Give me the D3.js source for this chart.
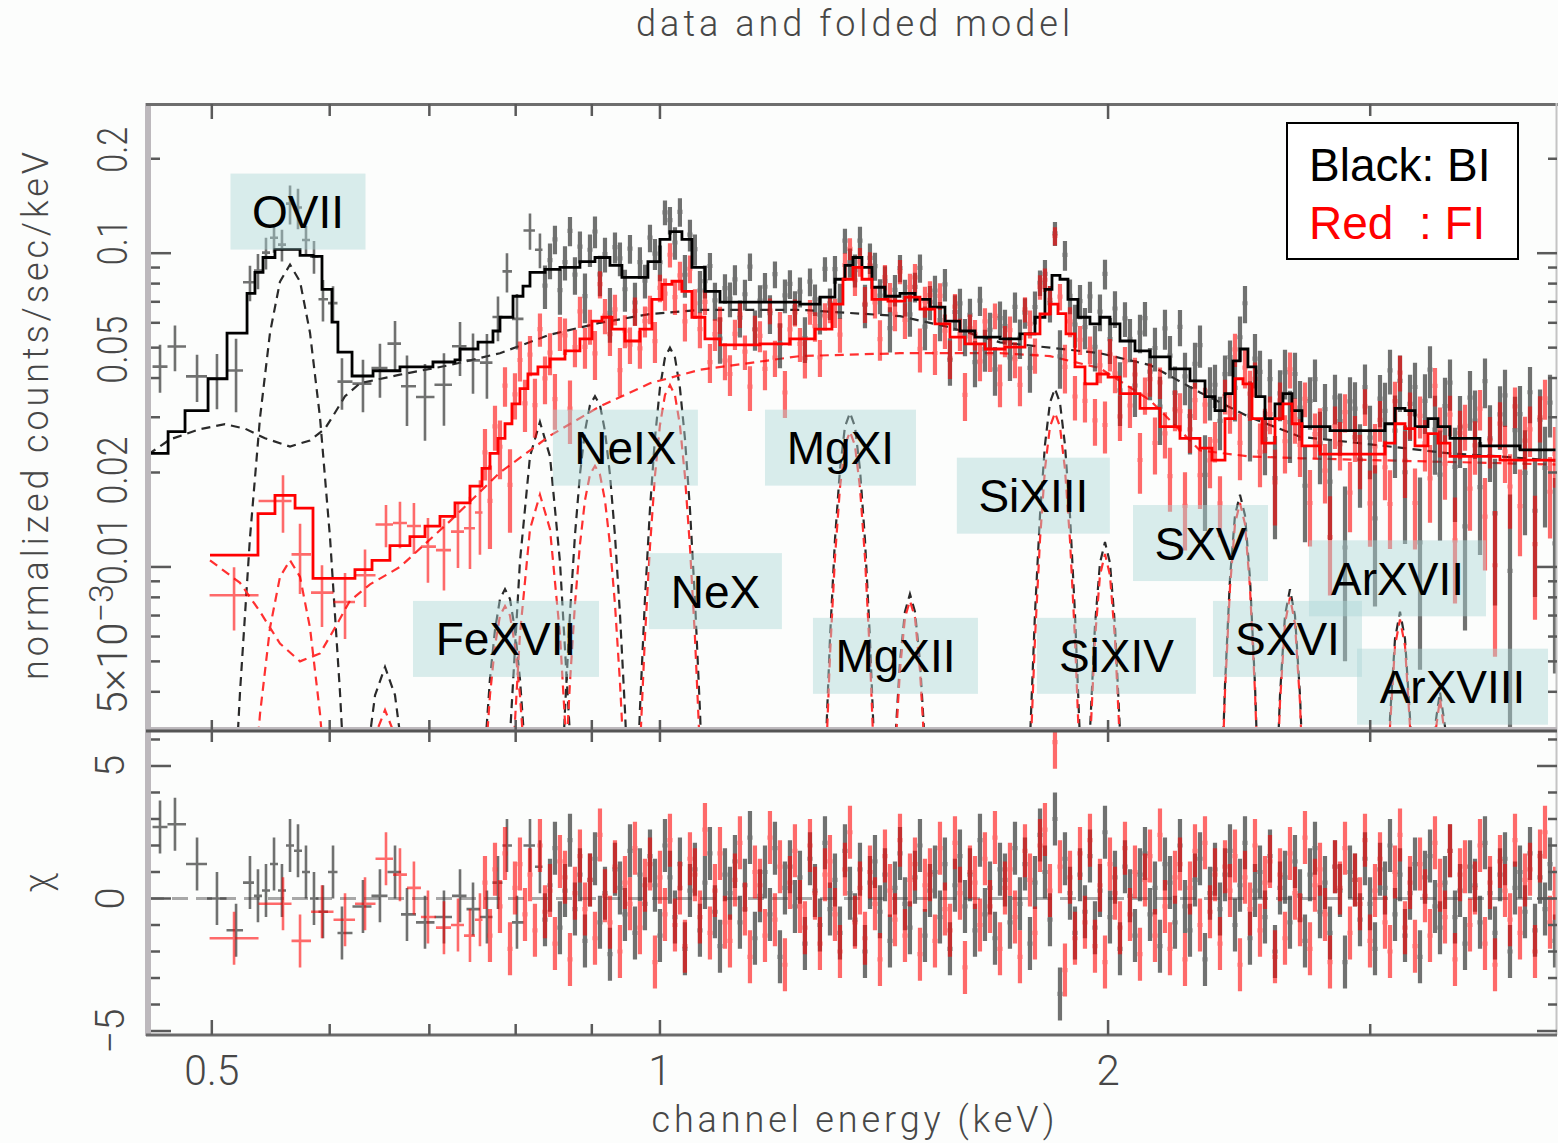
<!DOCTYPE html>
<html><head><meta charset="utf-8">
<script src="https://cdn.jsdelivr.net/npm/d3@7"></script>
<style>
html,body{margin:0;padding:0;background:#fcfdfc;}
svg{display:block;}
</style></head><body>
<svg id="chart" width="1558" height="1143"></svg>
<script>
// ---------------- axis ticks ----------------
const xTickMajor = [0.5, 1, 2];
const xTickMinor = [0.6, 0.7, 0.8, 0.9, 3, 4];
const xTickLabels = ["0.5", "1", "2"];
const yTickMajor = [0.1, 0.01];
const yTickMinor = [0.2, 0.09, 0.08, 0.07, 0.06, 0.05, 0.04, 0.03, 0.02, 0.009, 0.008, 0.007, 0.006, 0.005, 0.004];
const yTickLabelValues = [0.2, 0.1, 0.05, 0.02, 0.01, 0.005];
const chiTicks = [-5, -4, -3, -2, -1, 0, 1, 2, 3, 4, 5, 6];
const chiTickMajor = [-5, 0, 5];

// ---------------- folded model, BI (black): step left edges (keV) and counts/s/keV ----------------
const biModelE = [0.4530,0.4673,0.4797,0.4971,0.5119,0.5280,0.5345,0.5412,0.5513,0.5731,
0.5847,0.5929,0.6021,0.6077,0.6211,0.6416,0.6689,0.7039,0.7283,0.7340,
0.7547,0.7724,0.7808,0.7967,0.8091,0.8179,0.8371,0.8567,0.8836,0.9044,
0.9256,0.9429,0.9621,0.9816,1.0,1.0156,1.0346,1.0507,1.0721,1.0973,
1.2418,1.2808,1.3109,1.3313,1.3479,1.3668,1.3881,1.4163,1.4496,1.4836,
1.5184,1.5541,1.5905,1.6279,1.6921,1.7452,1.7862,1.8140,1.8338,1.8566,
1.8797,1.9090,1.9448,1.9751,2.0059,2.0372,2.0850,2.1340,2.2010,2.2702,
2.3235,2.3597,2.3965,2.4263,2.4527,2.4832,2.5142,2.5494,2.5892,2.6214,
2.6582,2.6996,2.8191,2.9990,3.0694,3.1173,3.1659,3.2152,3.2805,3.3316,
3.3941,3.5553,3.7822,4.005];
const biModelV = [0.0230,0.0270,0.0315,0.0398,0.0556,0.0745,0.0869,0.0969,0.1028,0.0984,
0.0977,0.0767,0.0603,0.0484,0.0406,0.0422,0.0434,0.0450,0.0457,0.0495,
0.0521,0.0565,0.0625,0.0729,0.0785,0.0869,0.0888,0.0901,0.0940,0.0969,
0.0915,0.0838,0.0838,0.0940,0.1106,0.1172,0.1106,0.0901,0.0756,0.0698,
0.0688,0.0724,0.0826,0.0915,0.0969,0.0901,0.0779,0.0729,0.0745,0.0713,
0.0673,0.0607,0.0565,0.0540,0.0533,0.0553,0.0625,0.0767,0.0850,0.0826,
0.0713,0.0625,0.0595,0.0625,0.0595,0.0525,0.0488,0.0467,0.0428,0.0392,
0.0349,0.0315,0.0357,0.0454,0.0495,0.0434,0.0349,0.0297,0.0331,0.0357,
0.0315,0.0280,0.0272,0.0272,0.0286,0.0320,0.0315,0.0280,0.0297,0.0280,
0.0257,0.0243,0.0236,0.0236];

// ---------------- folded model, FI (red) ----------------
const fiModelE = [0.4986,0.5370,0.5513,0.5687,0.5847,0.6239,0.6406,0.6586,0.6793,0.6953,
0.7116,0.7283,0.7454,0.7594,0.7688,0.7784,0.7869,0.7954,0.8053,0.8153,
0.8280,0.8436,0.8634,0.8836,0.9002,0.9142,0.9285,0.9473,0.9695,0.9877,
1.0031,1.0187,1.0346,1.0507,1.0721,1.0973,1.1673,1.2227,1.2710,1.3048,
1.3272,1.3479,1.3668,1.3881,1.4229,1.4608,1.4951,1.5302,1.5661,1.6028,
1.6533,1.7052,1.7588,1.8001,1.8281,1.8509,1.8740,1.9002,1.9298,1.9660,
2.0000,2.0372,2.1012,2.1672,2.2353,2.3056,2.3487,2.3965,2.4338,2.4641,
2.4987,2.5376,2.5892,2.6214,2.6582,2.6996,2.7758,3.0694,3.1173,3.1659,
3.2152,3.2805,3.3316,3.3941,3.6670,4.005];
const fiModelV = [0.0109,0.0148,0.0169,0.0154,0.0092,0.0098,0.0105,0.0117,0.0125,0.0135,
0.0145,0.0160,0.0181,0.0206,0.0230,0.0257,0.0286,0.0331,0.0370,0.0412,
0.0434,0.0460,0.0488,0.0533,0.0607,0.0625,0.0573,0.0525,0.0573,0.0713,
0.0796,0.0814,0.0756,0.0625,0.0533,0.0510,0.0514,0.0533,0.0573,0.0688,
0.0826,0.0901,0.0826,0.0713,0.0703,0.0724,0.0663,0.0595,0.0540,0.0514,
0.0495,0.0502,0.0553,0.0640,0.0688,0.0642,0.0553,0.0434,0.0383,0.0412,
0.0403,0.0357,0.0320,0.0280,0.0257,0.0239,0.0219,0.0297,0.0398,0.0383,
0.0297,0.0248,0.0297,0.0331,0.0286,0.0243,0.0229,0.0248,0.0286,0.0276,
0.0243,0.0266,0.0248,0.0225,0.0219,0.0219];

// ---------------- continuum components (dashed) ----------------
const biContE = [0.4530,0.4687,0.4910,0.5103,0.5263,0.5429,0.5643,0.5820,0.5957,0.6049,0.6144,0.6288,0.6689,0.7227,0.7808,0.8436,0.9114,0.9847,1.0638,1.2418,1.4496,1.5661,1.6921,1.8281,1.9751,2.1340,2.3056,2.4909,2.6913,2.9077,3.1415,3.3941,3.6670,4.005];
const biContV = [0.0228,0.0255,0.0275,0.0285,0.0276,0.0257,0.0242,0.0253,0.0276,0.0310,0.0350,0.0385,0.0410,0.0440,0.0480,0.0550,0.0600,0.0640,0.0660,0.0660,0.0630,0.0580,0.0520,0.0500,0.0480,0.0440,0.0360,0.0300,0.0260,0.0250,0.0240,0.0230,0.0225,0.0218];
const fiContE = [0.4986,0.5223,0.5387,0.5556,0.5731,0.5911,0.6049,0.6191,0.6386,0.6689,0.7227,0.7808,0.8436,0.9114,0.9847,1.0638,1.2418,1.4496,1.6921,1.8281,1.9751,2.1340,2.3056,2.4909,2.6913,3.1415,4.005];
const fiContV = [0.0105,0.0089,0.0072,0.0057,0.0050,0.0053,0.0064,0.0078,0.0088,0.0100,0.0140,0.0200,0.0262,0.0325,0.0385,0.0425,0.0470,0.0480,0.0480,0.0470,0.0430,0.0340,0.0235,0.0225,0.0222,0.0218,0.0212];

// ---------------- emission-line components (dashed): energies, BI and FI profiles ----------------
const lineNames = ["OVII","OVIII","FeXVIII","FeXVII","NeIX","NeX","MgXI","MgXII","SiXIII","SiXIV","SXV","SXVI","ArXVII","ArXVIII"];
const lineE = [
 [0.5143,0.5223,0.5304,0.5387,0.5471,0.5556,0.5643,0.5731,0.5820,0.5911,0.6003,0.6096,0.6191],
 [0.6239,0.6337,0.6436,0.6536,0.6638,0.6741,0.6846],
 [0.7512,0.7570,0.7629,0.7688,0.7748,0.7808,0.7869,0.7930,0.7991,0.8053,0.8116,0.8179,0.8242],
 [0.7808,0.7930,0.8053,0.8179,0.8306,0.8436,0.8567,0.8701,0.8836],
 [0.8501,0.8567,0.8634,0.8701,0.8768,0.8836,0.8905,0.8974,0.9044,0.9114,0.9185,0.9256,0.9328,0.9400,0.9473,0.9547,0.9621],
 [0.9621,0.9695,0.9771,0.9847,0.9923,1.0,1.0078,1.0156,1.0235,1.0314,1.0394,1.0475,1.0556,1.0638,1.0721],
 [1.2808,1.2908,1.3008,1.3109,1.3211,1.3313,1.3417,1.3521,1.3626,1.3732,1.3838,1.3946,1.4054],
 [1.4273,1.4384,1.4496,1.4608,1.4721,1.4836,1.4951,1.5067,1.5184],
 [1.7588,1.7724,1.7862,1.8001,1.8140,1.8281,1.8423,1.8566,1.8710,1.8856,1.9002,1.9150,1.9298],
 [1.9150,1.9298,1.9448,1.9599,1.9751,1.9905,2.0059,2.0215,2.0372,2.0530,2.0689],
 [2.3597,2.3780,2.3965,2.4151,2.4338,2.4527,2.4718,2.4909,2.5103,2.5298,2.5494],
 [2.5692,2.5892,2.6093,2.6295,2.6499,2.6705,2.6913,2.7121,2.7332],
 [3.0458,3.0694,3.0933,3.1173,3.1415,3.1659,3.1905,3.2152,3.2402],
 [3.2653,3.2907,3.3162,3.3420,3.3679,3.3941,3.4204]
];
const lineBI = [
 [0.0010,0.0040,0.0124,0.0299,0.0558,0.0812,0.092,0.0812,0.0558,0.0299,0.0124,0.0040,0.0010],
 [0.00083,0.0022,0.0039,0.0048,0.0039,0.0022,0.00083],
 [0.00059,0.0013,0.0026,0.0044,0.0063,0.0079,0.0085,0.0079,0.0063,0.0044,0.0026,0.0013,0.00059],
 [0.00049,0.0029,0.0104,0.0225,0.029,0.0225,0.0104,0.0029,0.00049],
 [0.00059,0.0015,0.0035,0.0071,0.0126,0.0197,0.0271,0.0328,0.035,0.0328,0.0271,0.0197,0.0126,0.0071,0.0035,0.0015,0.00059],
 [0.0013,0.0035,0.0079,0.0153,0.0257,0.0372,0.0465,0.050,0.0465,0.0372,0.0257,0.0153,0.0079,0.0035,0.0013],
 [0.00076,0.0023,0.0059,0.0122,0.0205,0.028,0.031,0.028,0.0205,0.0122,0.0059,0.0023,0.00076],
 [0.0011,0.0027,0.005,0.0072,0.0082,0.0072,0.005,0.0027,0.0011],
 [0.0009,0.0028,0.0071,0.0146,0.0245,0.0334,0.037,0.0334,0.0245,0.0146,0.0071,0.0028,0.0009],
 [0.00025,0.001,0.003,0.0065,0.0103,0.012,0.0103,0.0065,0.003,0.001,0.00025],
 [0.00036,0.0014,0.0042,0.0092,0.0146,0.017,0.0146,0.0092,0.0042,0.0014,0.00036],
 [0.00037,0.0015,0.0039,0.007,0.0085,0.007,0.0039,0.0015,0.00037],
 [0.00032,0.0012,0.0033,0.0059,0.0072,0.0059,0.0033,0.0012,0.00032],
 [0.0004,0.0014,0.0031,0.004,0.0031,0.0014,0.0004]
];
const lineFI = [
 [0.00012,0.00046,0.0014,0.0034,0.0064,0.0093,0.0105,0.0093,0.0064,0.0034,0.0014,0.00046,0.00012],
 [0.0006,0.0016,0.0029,0.0035,0.0029,0.0016,0.0006],
 [0.00052,0.0012,0.0023,0.0039,0.0056,0.0070,0.0075,0.0070,0.0056,0.0039,0.0023,0.0012,0.00052],
 [0.00029,0.0017,0.0061,0.0132,0.017,0.0132,0.0061,0.0017,0.00029],
 [0.00035,0.00092,0.0021,0.0043,0.0076,0.0118,0.0163,0.0197,0.021,0.0197,0.0163,0.0118,0.0076,0.0043,0.0021,0.00092,0.00035],
 [0.0010,0.0026,0.0060,0.0116,0.0195,0.0283,0.0353,0.038,0.0353,0.0283,0.0195,0.0116,0.0060,0.0026,0.0010],
 [0.00066,0.0020,0.0052,0.0107,0.0179,0.0244,0.027,0.0244,0.0179,0.0107,0.0052,0.0020,0.00066],
 [0.0011,0.0025,0.0047,0.0069,0.0078,0.0069,0.0047,0.0025,0.0011],
 [0.00076,0.0023,0.0059,0.0122,0.0205,0.028,0.031,0.028,0.0205,0.0122,0.0059,0.0023,0.00076],
 [0.00023,0.00093,0.0027,0.0059,0.0094,0.011,0.0094,0.0059,0.0027,0.00093,0.00023],
 [0.00034,0.0014,0.004,0.0086,0.0137,0.016,0.0137,0.0086,0.004,0.0014,0.00034],
 [0.00035,0.0014,0.0037,0.0066,0.008,0.0066,0.0037,0.0014,0.00035],
 [0.0003,0.0012,0.0031,0.0056,0.0068,0.0056,0.0031,0.0012,0.0003],
 [0.00038,0.0014,0.0029,0.0038,0.0029,0.0014,0.00038]
];

// ---------------- spectral bins ----------------
// low-energy BI bins (keV), their chi residuals and 1-sigma errors (% of model)
const biLowE = [0.4615,0.4723,0.4887,0.5040,0.5191,0.5304,0.5370,0.5437,0.5505,0.5573,0.5643,0.5713,0.5784,0.5856,0.5938,0.6031,0.6115,0.6317,0.6485,0.6638,0.6762,0.6953,0.7160,0.7340,0.7489,0.7652,0.7784,0.7893,0.8016,0.8179];
const biLowChi = [2.7,2.8,1.3,0.0,-1.2,0.6,0.1,0.3,1.3,0.3,2.0,1.8,1.0,0.0,-0.5,1.0,-1.3,-0.3,0.1,1.0,-0.6,-0.9,-0.7,0.1,-0.4,-0.7,0.6,2.0,-0.9,2.0];
const biLowErr = [33,31,22,20,20,14,13,12,12,12,20,20,12,12,14,15,15,18,20,22,22,22,22,20,20,20,18,20,17,18];
// low-energy FI bins
const fiLowE = [0.5175,0.5582,0.5731,0.5929,0.6144,0.6337,0.6546,0.6689,0.6835,0.6985,0.7160,0.7317,0.7454,
0.7570,0.7629,0.7688,0.7748,0.7808,0.7869,0.7930,0.7991,0.8053,0.8116,0.8179,0.8242];
const fiLowChi = [-1.5,-0.2,-1.6,-0.5,-0.8,-0.2,1.5,0.9,0.4,-0.7,-1.1,-1.0,-1.4];
const fiLowErr = [17,20,18,20,20,20,20,20,20,20,20,19,19];

// common fine channel grid above 0.83 keV
const gridE = [0.8306,0.8371,0.8436,0.8501,0.8567,0.8634,0.8701,0.8768,0.8836,0.8905,
0.8974,0.9044,0.9114,0.9185,0.9256,0.9328,0.9400,0.9473,0.9547,0.9621,
0.9695,0.9771,0.9847,0.9923,1.0000,1.0078,1.0156,1.0235,1.0314,1.0394,
1.0475,1.0556,1.0638,1.0721,1.0804,1.0888,1.0973,1.1058,1.1144,1.1230,
1.1317,1.1405,1.1494,1.1583,1.1673,1.1764,1.1855,1.1947,1.2040,1.2133,
1.2227,1.2322,1.2418,1.2514,1.2612,1.2710,1.2808,1.2908,1.3008,1.3109,
1.3211,1.3313,1.3417,1.3521,1.3626,1.3732,1.3838,1.3946,1.4054,1.4163,
1.4273,1.4384,1.4496,1.4608,1.4721,1.4836,1.4951,1.5067,1.5184,1.5302,
1.5421,1.5540,1.5661,1.5783,1.5905,1.6029,1.6153,1.6279,1.6405,1.6532,
1.6661,1.6790,1.6921,1.7052,1.7184,1.7318,1.7452,1.7588,1.7724,1.7862,
1.8001,1.8140,1.8281,1.8423,1.8566,1.8710,1.8856,1.9002,1.9150,1.9298,
1.9448,1.9599,1.9751,1.9905,2.0059,2.0215,2.0372,2.0530,2.0689,2.0850,
2.1012,2.1175,2.1340,2.1505,2.1672,2.1840,2.2010,2.2181,2.2353,2.2527,
2.2702,2.2878,2.3056,2.3235,2.3415,2.3597,2.3780,2.3965,2.4151,2.4338,
2.4527,2.4718,2.4909,2.5103,2.5298,2.5494,2.5692,2.5892,2.6093,2.6295,
2.6499,2.6705,2.6913,2.7121,2.7332,2.7544,2.7758,2.7974,2.8191,2.8410,
2.8630,2.8853,2.9077,2.9302,2.9530,2.9759,2.9990,3.0223,3.0458,3.0694,
3.0933,3.1173,3.1415,3.1659,3.1905,3.2152,3.2402,3.2653,3.2907,3.3162,
3.3420,3.3679,3.3941,3.4204,3.4470,3.4738,3.5007,3.5279,3.5553,3.5829,
3.6107,3.6388,3.6670,3.6955,3.7242,3.7531,3.7822,3.8116,3.8412,3.8710,
3.9011,3.9314,3.9619,3.9927];

const biGridChi = [1.2,-0.8,0.5,1.9,-1.1,0.3,2.2,-0.4,0.9,-1.6,
0.7,1.5,-0.9,0.2,-2.1,1.1,0.4,-0.6,1.8,-1.3,
0.9,-0.2,1.6,0.5,-1.4,2.0,0.8,-0.7,1.3,-1.9,
0.3,1.1,-1.2,0.6,1.7,-0.5,-1.8,0.9,0.2,1.4,
-0.9,0.5,2.3,-1.5,0.1,1.0,-0.6,1.9,-2.2,0.4,
1.2,-0.3,0.8,-1.7,1.5,0.3,-1.0,2.1,-0.4,0.7,
-1.3,1.8,0.2,-0.8,1.1,-2.0,0.6,1.4,-0.5,0.9,
-1.6,0.4,1.7,-0.2,-1.1,0.8,2.0,-1.4,0.3,1.0,
-0.7,1.3,-1.9,0.5,1.6,-0.3,0.9,-1.2,2.2,-0.6,
0.4,-1.5,1.1,0.7,-0.9,1.9,-0.2,1.3,-1.7,0.6,
2.4,1.0,-0.8,3.0,-3.6,1.5,0.2,-1.3,0.9,-0.5,
1.6,-1.1,0.3,2.5,-0.7,0.8,-1.9,1.2,0.1,-1.4,
0.9,1.7,-0.6,0.4,-1.8,1.3,0.6,-0.9,2.0,-0.3,
-1.2,0.7,1.5,-2.3,0.2,1.1,-0.4,0.9,1.8,-1.0,
0.5,2.1,-1.5,0.3,1.0,-0.7,1.6,-2.0,0.4,0.8,
-0.9,1.4,0.1,-1.6,0.9,1.9,-0.5,0.6,-1.3,1.2,
0.3,-2.4,1.0,0.7,-0.8,1.5,-0.2,-1.9,1.1,0.4,
2.0,-0.6,0.9,-1.4,0.2,1.3,-2.2,0.8,1.6,-0.3,
-1.1,0.6,1.8,-0.7,0.3,-1.7,1.2,0.5,-0.9,2.1,
0.2,-1.3,0.9,1.5,-2.0,0.4,1.0,-0.5,1.7,-1.2,
0.8,-0.4,1.3,-1.6];
const biGridErr = [15,14,14,13,14,13,14,13,13,14,
13,14,13,13,14,13,13,14,13,13,
13,12,12,12,11,11,11,11,12,12,
12,13,13,13,12,13,13,12,13,13,
12,12,13,12,12,12,13,12,12,13,
12,12,12,13,12,12,12,11,11,11,
11,11,11,11,12,12,12,12,12,13,
13,12,12,13,13,12,13,13,13,13,
13,14,13,14,14,13,14,14,14,14,
14,14,15,14,14,14,14,13,13,13,
12,12,12,12,12,13,13,13,14,14,
14,14,14,15,15,15,16,15,16,16,
16,16,17,17,17,18,17,18,18,18,
19,19,20,19,20,19,18,17,17,18,
18,19,20,21,20,20,21,21,20,21,
21,22,22,22,23,22,23,23,24,23,
24,24,24,25,24,25,25,25,24,25,
24,25,25,26,25,26,26,26,27,26,
27,27,28,27,28,28,29,28,29,29,
29,30,29,30,30,31,30,31,31,30,
31,31,32,31];

const fiGridChi = [-0.8,0.6,-1.4,1.1,-0.3,1.7,-1.9,0.4,1.3,-0.6,
0.9,-1.2,2.0,-0.5,0.3,-1.7,1.4,0.8,-2.3,0.2,
1.6,-0.4,0.7,-1.5,2.4,0.1,-0.9,1.2,-2.0,0.6,
-0.2,1.9,-1.1,0.5,1.3,-2.4,0.8,-0.6,2.2,-1.0,
0.4,-1.8,1.5,0.9,-0.7,2.6,-1.3,0.3,1.7,-0.9,
-1.6,0.7,2.1,-0.4,-2.2,1.0,0.5,-1.4,2.3,-0.8,
1.2,-2.5,0.6,1.8,-0.3,-1.1,2.0,0.2,-1.7,0.9,
1.4,-0.6,-2.0,1.1,2.5,-0.9,0.4,-1.5,1.0,-0.2,
-2.3,1.6,0.3,-0.8,2.2,-1.4,0.7,1.3,-2.1,0.5,
0.9,-1.6,1.9,-0.4,-1.2,2.1,0.2,-2.6,1.0,0.6,
-1.0,1.5,-0.3,2.3,-1.9,0.4,1.1,-0.7,-2.2,1.8,
0.7,-1.3,2.0,2.6,0.3,5.9,1.2,-2.7,0.8,-1.5,
1.7,-0.9,2.2,-1.8,0.5,-2.4,1.3,0.2,-1.1,1.9,
-0.6,1.0,-2.1,0.7,1.6,-1.4,2.4,-0.3,-1.9,0.8,
1.3,-2.3,0.4,1.8,-1.0,2.1,-0.5,0.9,-1.7,1.2,
0.3,1.6,-2.5,0.8,-0.4,2.0,-1.2,0.6,1.4,-2.2,
0.9,-1.5,1.7,0.2,-0.8,2.3,-1.9,0.5,1.1,-0.6,
-2.4,1.2,0.4,1.9,-1.3,0.7,-0.2,2.2,-1.6,0.3,
1.5,-0.9,-2.0,1.0,2.4,-1.1,0.6,-1.8,1.3,0.1,
-1.4,2.1,0.5,-0.7,1.8,-2.3,0.9,1.2,-1.0,0.4,
2.0,-1.7,0.6,-2.5,1.4,0.3,-0.8,2.2,-1.3,0.7,
1.1,-2.0,1.6,2.5,-0.9,0.2];
const fiGridErr = [22,21,21,20,20,19,19,18,18,17,
17,17,16,16,16,15,15,15,15,14,
14,14,14,14,13,13,13,13,13,13,
13,13,12,12,12,11,11,11,11,11,
11,11,12,12,12,12,12,12,12,12,
12,12,12,12,12,12,12,12,12,12,
12,12,12,12,12,12,11,11,11,11,
11,10,10,10,10,10,11,11,11,11,
11,11,11,11,11,11,11,12,12,12,
12,12,12,12,12,12,12,12,12,12,
12,12,12,12,12,12,12,12,11,11,
11,11,11,11,11,11,11,12,12,13,
13,13,13,13,13,13,14,14,14,14,
14,15,15,15,15,16,16,16,16,17,
17,17,17,18,18,18,17,17,16,15,
15,15,15,16,17,17,18,18,17,17,
16,16,17,17,18,18,18,18,19,19,
19,19,19,19,19,19,19,19,19,19,
19,18,18,18,19,19,19,19,19,19,
20,20,20,20,20,20,21,21,21,21,
21,21,21,22,22,22,22,22,22,22,
23,23,23,23,23,23];

// ---------------- annotations ----------------
const ionLabels = ["OVII","NeIX","MgXI","SiXIII","SXV","ArXVII","FeXVII","NeX","MgXII","SiXIV","SXVI","ArXVIII"];
const ionLabelE = [0.5713,0.9480,1.3221,1.7817,2.3074,3.1293,0.7881,1.0896,1.4395,2.0261,2.6397,3.4073];
const ionLabelV = [0.1357,0.0240,0.0240,0.01687,0.01192,0.00920,0.005897,0.008375,0.005208,0.005208,0.005897,0.004153];
const ionBoxW = [135,145,151,153,135,177,186,133,165,159,149,191];
const legendEntries = ["Black: BI", "Red  : FI"];

// ---------------- scales ----------------
const W = 1558, H = 1143;
const L = 148, R = 1557, T = 103.5, MID = 731, B = 1035;
const x = d3.scaleLog().domain([0.4530, 4.005]).range([L, R]);
const yTop = d3.scaleLog().domain([0.003, 0.3]).range([MID, T]);
const yRes = d3.scaleLinear().domain([-5.15, 6.32]).range([B, MID]);

const svg = d3.select("#chart");
svg.append("rect").attr("width", W).attr("height", H).attr("fill", "#fcfdfc");
const defs = svg.append("defs");
defs.append("clipPath").attr("id", "clipTop").append("rect")
  .attr("x", L).attr("y", T).attr("width", R - L).attr("height", MID - T);
defs.append("clipPath").attr("id", "clipRes").append("rect")
  .attr("x", L).attr("y", MID).attr("width", R - L).attr("height", B - MID);

function modelAt(edges, vals, E) {
  const i = Math.max(0, Math.min(vals.length - 1, d3.bisectRight(edges, E) - 1));
  return vals[i];
}
function buildBins(energies, chi, err, edges, vals) {
  const n = energies.length;
  return energies.map((E, i) => {
    const m = modelAt(edges, vals, E);
    const s = m * err[i] / 100;
    const lo = i > 0 ? Math.sqrt(energies[i - 1] * E) : E * Math.sqrt(E / energies[i + 1]);
    const hi = i < n - 1 ? Math.sqrt(E * energies[i + 1]) : E * Math.sqrt(E / energies[i - 1]);
    return { E, lo, hi, rate: m + chi[i] * s, err: s, chi: chi[i] };
  });
}
const biBins = buildBins(biLowE.concat(gridE), biLowChi.concat(biGridChi), biLowErr.concat(biGridErr), biModelE, biModelV);
const fiBins = buildBins(fiLowE.concat(gridE), fiLowChi.concat(fiGridChi), fiLowErr.concat(fiGridErr), fiModelE, fiModelV);

const topG = svg.append("g").attr("clip-path", "url(#clipTop)");
const resG = svg.append("g").attr("clip-path", "url(#clipRes)");

// dashed model components
const compLine = d3.line().x(d => x(d[0])).y(d => yTop(d[1]));
function dashed(E, V, color) {
  topG.append("path").attr("d", compLine(E.map((e, i) => [e, V[i]])))
    .attr("fill", "none").attr("stroke", color).attr("stroke-width", 2.2)
    .attr("stroke-dasharray", "9,6");
}
dashed(biContE, biContV, "#2a2a2a");
lineE.forEach((E, k) => dashed(E, lineBI[k], "#2a2a2a"));
dashed(fiContE, fiContV, "#ff3030");
lineE.forEach((E, k) => dashed(E, lineFI[k], "#ff3030"));

// residual zero line
resG.append("line").attr("x1", L).attr("x2", R).attr("y1", yRes(0)).attr("y2", yRes(0))
  .attr("stroke", "#a8a8a8").attr("stroke-width", 3).attr("stroke-dasharray", "16,8");

// data crosses: wide low-energy bins thinner, dense channels heavier
function drawBins(bins, color, op) {
  const w = d => (x(d.hi) - x(d.lo) < 7 ? 4.2 : 2.6);
  topG.append("g").selectAll("path").data(bins).join("path")
    .attr("d", d => `M${x(d.lo)},${yTop(d.rate)}H${x(d.hi)}M${x(d.E)},${yTop(d.rate + d.err)}V${yTop(d.rate - d.err)}`)
    .attr("fill", "none").attr("stroke", color).attr("stroke-width", w).attr("stroke-opacity", op);
  resG.append("g").selectAll("path").data(bins).join("path")
    .attr("d", d => `M${x(d.lo)},${yRes(d.chi)}H${x(d.hi)}M${x(d.E)},${yRes(d.chi + 1)}V${yRes(d.chi - 1)}`)
    .attr("fill", "none").attr("stroke", color).attr("stroke-width", w).attr("stroke-opacity", op);
}
drawBins(biBins, "#3a3a3a", 0.72);
drawBins(fiBins, "#ff0000", 0.58);

// total folded models
const stepLine = d3.line().x(d => x(d[0])).y(d => yTop(d[1])).curve(d3.curveStepAfter);
topG.append("path").attr("d", stepLine(biModelE.map((e, i) => [e, biModelV[i]])))
  .attr("fill", "none").attr("stroke", "#000").attr("stroke-width", 2.8);
topG.append("path").attr("d", stepLine(fiModelE.map((e, i) => [e, fiModelV[i]])))
  .attr("fill", "none").attr("stroke", "#ff0000").attr("stroke-width", 2.8);

// ion labels
const labG = svg.append("g");
ionLabels.forEach((name, i) => {
  const cx = x(ionLabelE[i]), cy = yTop(ionLabelV[i]), w = ionBoxW[i], h = 76;
  labG.append("rect").attr("x", cx - w / 2).attr("y", cy - h / 2).attr("width", w).attr("height", h)
    .attr("fill", "rgb(170,214,214)").attr("fill-opacity", 0.44);
  labG.append("text").attr("x", cx).attr("y", cy + 16.5).attr("text-anchor", "middle")
    .attr("font-family", "'Liberation Sans', Arial, sans-serif").attr("font-size", 46)
    .attr("fill", "#000").text(name);
});

// frame
const fr = svg.append("g");
fr.append("rect").attr("x", 145).attr("y", 103).attr("width", 6).attr("height", B - 103 + 1).attr("fill", "#bdb9bd");
fr.append("line").attr("x1", 146).attr("x2", R + 1).attr("y1", 104.5).attr("y2", 104.5).attr("stroke", "#6e6e6e").attr("stroke-width", 3);
fr.append("line").attr("x1", R - 0.5).attr("x2", R - 0.5).attr("y1", 103).attr("y2", B).attr("stroke", "#c4c4c4").attr("stroke-width", 2);
fr.append("rect").attr("x", 148).attr("y", MID - 4).attr("width", R - 148).attr("height", 3).attr("fill", "#bdb9bd");
fr.append("line").attr("x1", 146).attr("x2", R).attr("y1", MID).attr("y2", MID).attr("stroke", "#555").attr("stroke-width", 3);
fr.append("line").attr("x1", 146).attr("x2", R).attr("y1", B).attr("y2", B).attr("stroke", "#6a6a6a").attr("stroke-width", 3);

const tickColor = "#5a5a5a";
function vtick(xp, y1, y2) { fr.append("line").attr("x1", xp).attr("x2", xp).attr("y1", y1).attr("y2", y2).attr("stroke", tickColor).attr("stroke-width", 2.5); }
function htick(yp, x1, x2) { fr.append("line").attr("x1", x1).attr("x2", x2).attr("y1", yp).attr("y2", yp).attr("stroke", tickColor).attr("stroke-width", 2.5); }
xTickMajor.concat(xTickMinor).forEach(v => {
  const major = xTickMajor.includes(v);
  const xp = x(v);
  if (xp > R - 1) return;
  vtick(xp, 104, 104 + (major ? 15 : 12));
  vtick(xp, MID - 11, MID + 11);
  vtick(xp, B, B - (major ? 15 : 11));
});
yTickMajor.concat(yTickMinor).forEach(v => {
  const len = yTickMajor.includes(v) ? 20 : 9;
  const yp = yTop(v);
  htick(yp, 151, 151 + len);
  htick(yp, R, R - len);
});
chiTicks.forEach(v => {
  const len = chiTickMajor.includes(v) ? 20 : 9;
  const yp = yRes(v);
  htick(yp, 151, 151 + len);
  htick(yp, R, R - len);
});

// axis text
const axFont = "Roboto, 'DejaVu Sans', sans-serif";
const txt = svg.append("g").attr("font-family", axFont).attr("font-weight", 300).attr("fill", "#474747");
txt.append("text").attr("x", 853).attr("y", 36).attr("text-anchor", "middle").attr("font-size", 36)
  .attr("textLength", 434).attr("lengthAdjust", "spacing").text("data and folded model");
txt.append("text").attr("x", 853).attr("y", 1132).attr("text-anchor", "middle").attr("font-size", 36)
  .attr("textLength", 403).attr("lengthAdjust", "spacing").text("channel energy (keV)");
txt.append("text").attr("transform", "translate(48,416) rotate(-90)").attr("text-anchor", "middle")
  .attr("font-size", 36).attr("textLength", 528).attr("lengthAdjust", "spacing").text("normalized counts/sec/keV");
txt.append("text").attr("transform", "translate(50,883) rotate(-90)").attr("text-anchor", "middle")
  .attr("font-size", 36).text("χ");

// x tick labels
xTickMajor.forEach((v, i) => {
  const t = txt.append("text").attr("x", x(v)).attr("y", 1085).attr("text-anchor", "middle").attr("font-size", 42).text(xTickLabels[i]);
  if (xTickLabels[i].length > 1) t.attr("textLength", 55).attr("lengthAdjust", "spacingAndGlyphs");
});
// y tick labels (top panel)
const yLabelShift = [-9, -11, 2, -2, -16, 0];
yTickLabelValues.forEach((v, i) => {
  const yp = yTop(v) + yLabelShift[i];
  if (v === 0.005) {
    const t = txt.append("text").attr("transform", `translate(127,${yp + 53}) rotate(-90)`).attr("text-anchor", "start").attr("font-size", 42);
    t.append("tspan").text("5×10");
    t.append("tspan").attr("dy", -14).attr("font-size", 34).text("−3");
  } else {
    const s = String(v);
    txt.append("text").attr("transform", `translate(127,${yp}) rotate(-90)`).attr("text-anchor", "middle")
      .attr("font-size", 42).attr("textLength", s.length > 3 ? 68 : 46).attr("lengthAdjust", "spacingAndGlyphs").text(s);
  }
});
// residual tick labels
chiTickMajor.forEach(v => {
  txt.append("text").attr("transform", `translate(124,${yRes(v)}) rotate(-90)`).attr("text-anchor", "middle")
    .attr("font-size", 40).text(v < 0 ? "−" + Math.abs(v) : String(v));
});

// legend
const lg = svg.append("g");
lg.append("rect").attr("x", 1287).attr("y", 123).attr("width", 231).attr("height", 136)
  .attr("fill", "#fff").attr("stroke", "#000").attr("stroke-width", 2);
lg.append("text").attr("x", 1309).attr("y", 181).attr("font-family", "'Liberation Sans', Arial, sans-serif")
  .attr("font-size", 46).attr("fill", "#000").text(legendEntries[0]);
lg.append("text").attr("x", 1309).attr("y", 239).attr("font-family", "'Liberation Sans', Arial, sans-serif")
  .attr("font-size", 46).attr("fill", "#ff0000").style("white-space", "pre").text(legendEntries[1]);
</script>
</body></html>
